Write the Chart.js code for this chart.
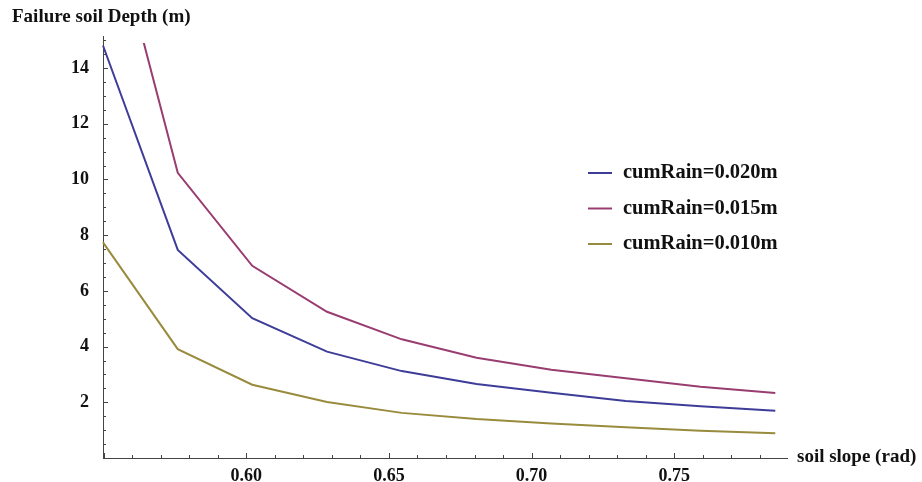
<!DOCTYPE html>
<html>
<head>
<meta charset="utf-8">
<title>Failure soil depth</title>
<script src="https://cdn.jsdelivr.net/npm/chart.js@4.4.1/dist/chart.umd.min.js"></script>
<style>
    html, body { margin: 0; padding: 0; background: #ffffff; }
    #wrap { width: 922px; height: 482px; position: relative; }
</style>
</head>
<body>
<div id="wrap"><canvas id="depthChart"></canvas></div>
<script>
// Données (pente en rad, profondeur en m)
const slopeRad = [0.5498, 0.5760, 0.6021, 0.6283, 0.6545, 0.6807, 0.7069, 0.7330, 0.7592, 0.7854];
const depth020 = [14.81, 7.47, 5.02, 3.82, 3.12, 2.66, 2.34, 2.05, 1.86, 1.70];
const depth015 = [20.5, 10.24, 6.90, 5.25, 4.26, 3.60, 3.17, 2.86, 2.56, 2.33];
const depth010 = [7.74, 3.91, 2.63, 2.01, 1.62, 1.40, 1.24, 1.10, 0.98, 0.89];
const seriesLabels = ['cumRain=0.020m', 'cumRain=0.015m', 'cumRain=0.010m'];
const seriesColors = ['#3d3d99', '#993d71', '#998b3d'];
const xTickValues = [0.60, 0.65, 0.70, 0.75];
const yTickValues = [2, 4, 6, 8, 10, 12, 14];

const serif = '"Liberation Serif", "Times New Roman", serif';
Chart.defaults.font.family = serif;
Chart.defaults.font.weight = 'bold';
Chart.defaults.font.size = 18;
Chart.defaults.color = '#111111';

function toPoints(ys) {
    return slopeRad.map((x, i) => ({ x: x, y: ys[i] }));
}

// Petites graduations vers l'intérieur, style Mathematica
const innerTicks = {
    id: 'innerTicks',
    afterDraw(chart) {
        const ctx = chart.ctx;
        const xs = chart.scales.x, ys = chart.scales.y;
        const x0 = xs.left, y0 = ys.bottom;
        ctx.save();
        ctx.strokeStyle = '#444444';
        ctx.lineWidth = 1;
        ctx.beginPath();
        for (let k = 55; k <= 79; k++) {
            const v = k / 100;
            if (v > xs.max + 1e-9) break;
            const px = Math.round(xs.getPixelForValue(v)) + 0.5;
            const len = (k % 5 === 0) ? 5 : 3;
            ctx.moveTo(px, y0);
            ctx.lineTo(px, y0 - len);
        }
        for (let k = 1; k <= 30; k++) {
            const v = k / 2;
            if (v > ys.max) break;
            const py = Math.round(ys.getPixelForValue(v)) + 0.5;
            const len = (k % 4 === 0) ? 5 : 3;
            ctx.moveTo(x0, py);
            ctx.lineTo(x0 + len, py);
        }
        ctx.stroke();

        // titres des axes
        ctx.fillStyle = '#111111';
        ctx.font = 'bold 19px ' + serif;
        ctx.textBaseline = 'middle';
        ctx.textAlign = 'left';
        ctx.fillText('Failure soil Depth (m)', 12, 17);
        ctx.fillText('soil slope (rad)', 797, y0 - 1);

        // légende
        ctx.font = 'bold 20.5px ' + serif;
        chart.data.datasets.forEach((ds, i) => {
            const ly = 173 + i * 35.5;
            ctx.strokeStyle = ds.borderColor;
            ctx.lineWidth = 2;
            ctx.beginPath();
            ctx.moveTo(588, ly);
            ctx.lineTo(612, ly);
            ctx.stroke();
            ctx.fillText(ds.label, 623, ly);
        });
        ctx.restore();
    }
};

const depthData = [depth020, depth015, depth010];

new Chart(document.getElementById('depthChart'), {
    type: 'line',
    data: {
        datasets: depthData.map((ys, i) => ({
            label: seriesLabels[i],
            data: toPoints(ys),
            borderColor: seriesColors[i],
            backgroundColor: seriesColors[i],
            borderWidth: 2,
            pointRadius: 0,
            tension: 0,
            fill: false,
            clip: { left: 2, top: -7, right: 2, bottom: 2 }
        }))
    },
    options: {
        responsive: true,
        maintainAspectRatio: false,
        animation: false,
        layout: { padding: { left: 0, top: 36, right: 135, bottom: 0 } },
        plugins: {
            legend: { display: false },
            tooltip: { enabled: false }
        },
        scales: {
            x: {
                type: 'linear',
                min: 0.5498,
                max: 0.7895,
                afterFit: (s) => { s.height = 24; },
                afterBuildTicks: (s) => { s.ticks = xTickValues.map(v => ({ value: v })); },
                grid: { display: false },
                border: { display: true, color: '#444444', width: 1 },
                ticks: {
                    padding: 0,
                    maxRotation: 0,
                    callback: (v) => Number(v).toFixed(2)
                }
            },
            y: {
                type: 'linear',
                min: 0,
                max: 15.15,
                afterFit: (s) => { s.width = 103; },
                afterBuildTicks: (s) => { s.ticks = yTickValues.map(v => ({ value: v })); },
                grid: { display: false },
                border: { display: true, color: '#444444', width: 1 },
                ticks: {
                    padding: 6,
                    callback: (v) => String(v)
                }
            }
        }
    },
    plugins: [innerTicks]
});
</script>
</body>
</html>
